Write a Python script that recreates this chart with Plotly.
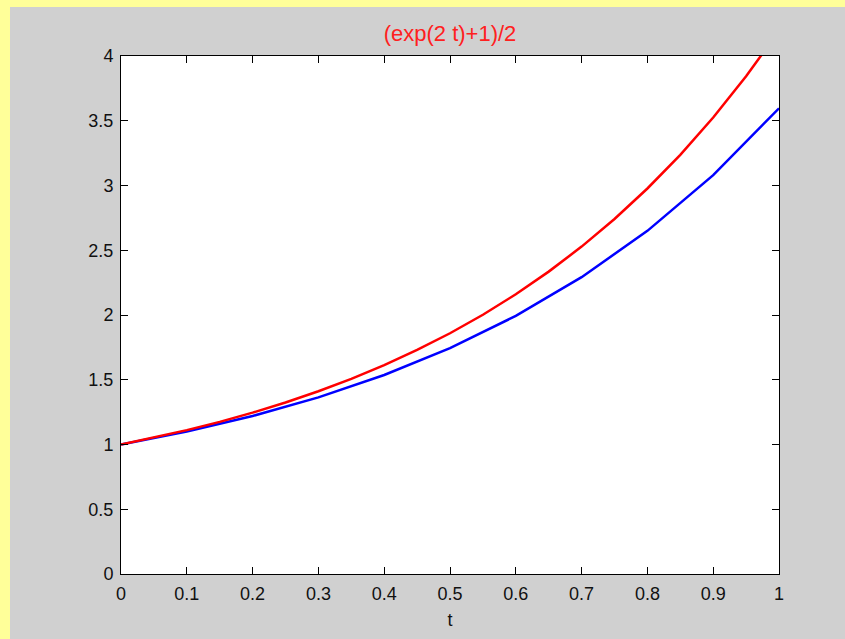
import plotly.graph_objects as go

# Data
t_exact = [0.00, 0.05, 0.10, 0.15, 0.20, 0.25, 0.30, 0.35, 0.40, 0.45, 0.50,
           0.55, 0.60, 0.65, 0.70, 0.75, 0.80, 0.85, 0.90, 0.95, 1.00]
y_exact = [1.000, 1.053, 1.111, 1.175, 1.246, 1.324, 1.411, 1.507, 1.613, 1.730, 1.859,
           2.002, 2.160, 2.335, 2.528, 2.741, 2.977, 3.237, 3.525, 3.843, 4.195]

t_approx = [0.0, 0.1, 0.2, 0.3, 0.4, 0.5, 0.6, 0.7, 0.8, 0.9, 1.0]
y_approx = [1.000, 1.100, 1.220, 1.364, 1.537, 1.744, 1.993, 2.292, 2.650, 3.080, 3.596]

x_ticks = [0, 0.1, 0.2, 0.3, 0.4, 0.5, 0.6, 0.7, 0.8, 0.9, 1]
x_ticklabels = ["0", "0.1", "0.2", "0.3", "0.4", "0.5", "0.6", "0.7", "0.8", "0.9", "1"]
y_ticks = [0, 0.5, 1, 1.5, 2, 2.5, 3, 3.5, 4]
y_ticklabels = ["0", "0.5", "1", "1.5", "2", "2.5", "3", "3.5", "4"]

title_text = "(exp(2 t)+1)/2"
x_label = "t"

W, H = 845, 639
L, R, T, B = 121, 66, 56, 65
FONT = "Liberation Sans, Arial, sans-serif"

fig = go.Figure()
fig.add_trace(go.Scatter(x=t_approx, y=y_approx, mode="lines",
                         line=dict(color="#0000FF", width=2.5), showlegend=False))
fig.add_trace(go.Scatter(x=t_exact, y=y_exact, mode="lines",
                         line=dict(color="#FF0000", width=2.5), showlegend=False))

axis_common = dict(
    showline=True, linecolor="#000000", linewidth=1, mirror="ticks",
    ticks="inside", ticklen=7, tickwidth=1, tickcolor="#000000",
    showgrid=False, zeroline=False,
    tickfont=dict(family=FONT, size=18, color="#111111"),
)

fig.update_xaxes(range=[0, 1], tickvals=x_ticks, ticktext=x_ticklabels,
                 ticklabelstandoff=3,
                 title=dict(text=x_label, font=dict(family=FONT, size=18, color="#111111"),
                            standoff=10),
                 **axis_common)
fig.update_yaxes(range=[0, 4], tickvals=y_ticks, ticktext=y_ticklabels,
                 ticklabelstandoff=3,
                 **axis_common)

pw = W - L - R
ph = H - T - B
# yellow strips on top and left edges
fig.add_shape(type="rect", xref="paper", yref="paper", layer="below",
              x0=(0 - L) / pw, x1=(W - L) / pw, y0=(H - B - 7) / ph, y1=(H - B + 2) / ph,
              fillcolor="#FFFF99", line=dict(width=0))
fig.add_shape(type="rect", xref="paper", yref="paper", layer="below",
              x0=(0 - L - 2) / pw, x1=(10 - L) / pw, y0=(H - B - H - 2) / ph, y1=(H - B + 2) / ph,
              fillcolor="#FFFF99", line=dict(width=0))

fig.update_layout(
    width=W, height=H,
    margin=dict(l=L, r=R, t=T, b=B),
    paper_bgcolor="#D0D0D0",
    plot_bgcolor="#FFFFFF",
    title=dict(text=title_text, x=(L + pw / 2) / W, xanchor="center",
               y=1 - 33 / H, yanchor="middle",
               font=dict(family=FONT, size=22, color="#FF2020")),
)

fig.write_html("out.html")
